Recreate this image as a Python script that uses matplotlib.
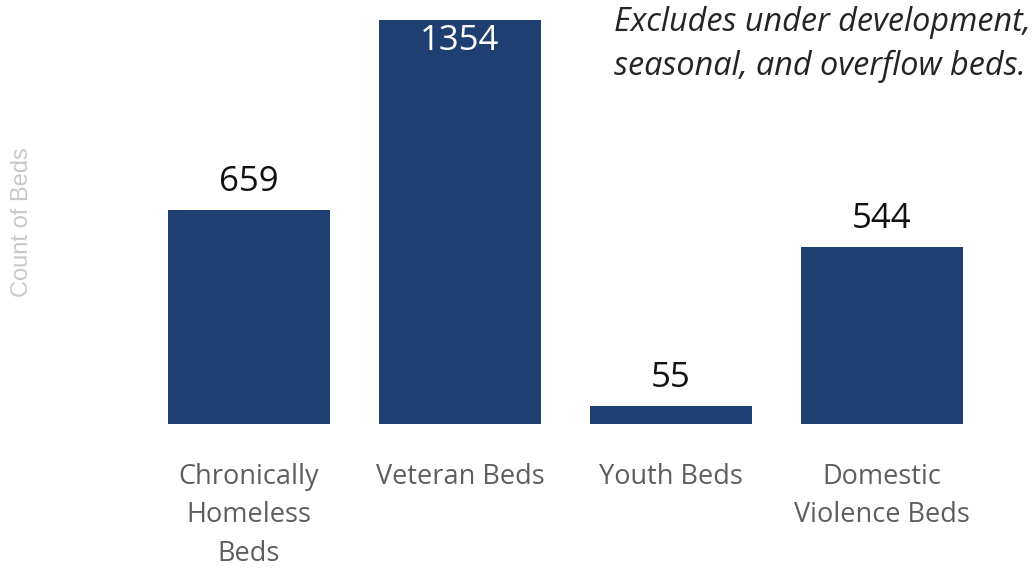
import matplotlib
matplotlib.use("Agg")
import matplotlib.pyplot as plt

# data
categories = ["Chronically\nHomeless\nBeds", "Veteran Beds", "Youth Beds", "Domestic\nViolence Beds"]
beds = [659, 1354, 55, 544]
y_max = 1244          # the axis cuts the veteran bar off
note = "Excludes under development,\nseasonal, and overflow beds."

bar_color = "#1F3F73"
plt.rcParams["font.family"] = ["Open Sans", "DejaVu Sans"]

fig = plt.figure(figsize=(10.33, 5.68), dpi=100)
ax = fig.add_axes([143.5 / 1033, 1 - 424 / 568, 844 / 1033, 404 / 568])

x = range(len(categories))
ax.bar(x, beds, width=0.768, color=bar_color)
ax.set_xlim(-0.5, len(categories) - 0.5)
ax.set_ylim(0, y_max)

for i, v in enumerate(beds):
    if v > y_max:
        ax.annotate(str(v), (i, y_max), xytext=(0, -3), textcoords="offset points",
                    ha="center", va="top", fontsize=25, color="white")
    else:
        ax.annotate(str(v), (i, v), xytext=(0, 8), textcoords="offset points",
                    ha="center", va="bottom", fontsize=25, color="#111111")

ax.set_xticks(list(x))
ax.set_xticklabels(categories, fontsize=19.5, color="#605E5C", linespacing=1.5)
ax.tick_params(axis="x", length=0, pad=28)
ax.set_yticks([])
for s in ax.spines.values():
    s.set_visible(False)

fig.text(22 / 1033, 1 - 222 / 568, "Count of Beds", rotation=90, ha="center", va="center",
         fontsize=17, color="#C8C8C8", family=["Liberation Sans", "DejaVu Sans"])
fig.text(614 / 1033, 1 - 6 / 568, note, ha="left", va="top", fontsize=23.3,
         style="italic", color="#252423", linespacing=1.42)

fig.savefig("out.png", dpi=100)
